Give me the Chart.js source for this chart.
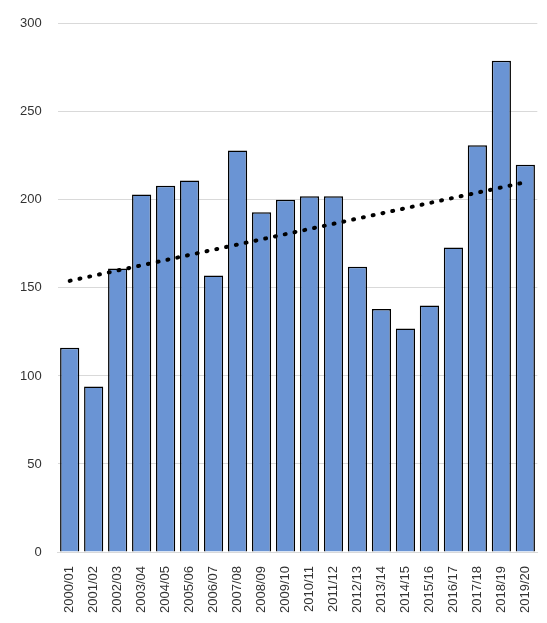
<!DOCTYPE html>
<html>
<head>
<meta charset="utf-8">
<script src="https://cdn.jsdelivr.net/npm/chart.js@4"></script>
<style>
  html, body { margin: 0; padding: 0; background: #fff; }
  #wrap { width: 547px; height: 623px; }
</style>
</head>
<body>
<div id="wrap"><canvas id="chart"></canvas></div>
<script>
// Seasons along the x axis
const seasons = ['2000/01', '2001/02', '2002/03', '2003/04', '2004/05', '2005/06', '2006/07',
    '2007/08', '2008/09', '2009/10', '2010/11', '2011/12', '2012/13', '2013/14', '2014/15',
    '2015/16', '2016/17', '2017/18', '2018/19', '2019/20'];

// Bar values
const values = [116, 94, 161, 203, 208, 211, 157, 228, 193, 200, 202, 202, 162, 138, 127,
    140, 173, 231, 279, 220];

// Trend line, read at the first and last season
const trendStart = 154;
const trendEnd = 210;

const trend = seasons.map((s, i) => i === 0 ? trendStart : (i === seasons.length - 1 ? trendEnd : null));

new Chart(document.getElementById('chart'), {
    type: 'bar',
    data: {
        labels: seasons,
        datasets: [{
            type: 'line',
            data: trend,
            spanGaps: true,
            borderColor: '#000',
            borderWidth: 4,
            borderDash: [1, 9],
            borderCapStyle: 'round',
            pointRadius: 0,
            order: 0
        }, {
            data: values,
            backgroundColor: '#6a94d4',
            borderColor: '#000',
            borderWidth: 1.5,
            categoryPercentage: 0.8,
            barPercentage: 1,
            order: 1
        }]
    },
    options: {
        responsive: true,
        maintainAspectRatio: false,
        animation: false,
        layout: { padding: { top: 0, right: 2, left: 4, bottom: 4 } },
        plugins: { legend: { display: false }, tooltip: { enabled: false } },
        scales: {
            x: {
                grid: { display: false },
                border: { color: '#d9d9d9' },
                ticks: {
                    color: '#333',
                    padding: 6,
                    font: { family: 'Liberation Sans', size: 13 },
                    minRotation: 90, maxRotation: 90, autoSkip: false
                }
            },
            y: {
                min: 0, max: 300,
                ticks: { stepSize: 50, color: '#333', font: { family: 'Liberation Sans', size: 13 }, padding: 16 },
                grid: { color: '#d9d9d9', drawTicks: false },
                border: { display: false }
            }
        }
    }
});
</script>
</body>
</html>
